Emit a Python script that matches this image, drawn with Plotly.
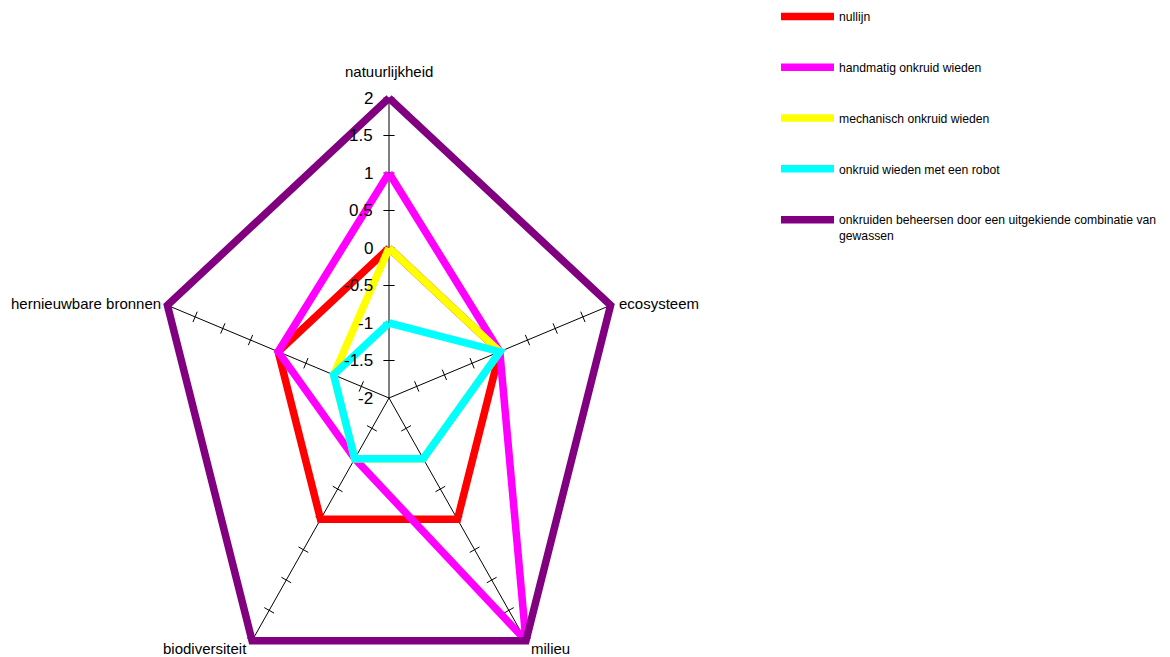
import numpy as np
import plotly.graph_objects as go

# ---------------- data ----------------
categories = ["natuurlijkheid", "ecosysteem", "milieu", "biodiversiteit", "hernieuwbare bronnen"]

series_names = [
    "nullijn",
    "handmatig onkruid wieden",
    "mechanisch onkruid wieden",
    "onkruid wieden met een robot",
    "onkruiden beheersen door een uitgekiende combinatie van<br>gewassen",
]
nullijn = [0, 0, 0, 0, 0]
handmatig = [1, 0, 2, -1, 0]
mechanisch = [0, 0, -1, -1, -1]
robot = [-1, 0, -1, -1, -1]
combinatie = [2, 2, 2, 2, 2]
series_values = [nullijn, handmatig, mechanisch, robot, combinatie]
series_colors = ["#FF0000", "#FF00FF", "#FFFF00", "#00FFFF", "#800080"]

tick_values = [-2, -1.5, -1, -0.5, 0, 0.5, 1, 1.5, 2]
tick_labels = ["-2", "-1.5", "-1", "-0.5", "0", "0.5", "1", "1.5", "2"]
R_MIN, R_MAX = -2, 2

# ---------------- geometry ----------------
W, H = 1170, 657
CX_PX, CY_PX = 389, 398          # centre of the radar in pixels
PX_X, PX_Y = 58.25, 75.0          # pixels per radial unit, horizontal / vertical

n = len(categories)
theta = np.deg2rad(np.arange(n) * 360.0 / n)


def to_xy(vals):
    r = np.asarray(vals, dtype=float) - R_MIN
    return r * np.sin(theta), r * np.cos(theta)


def closed(a):
    a = list(a)
    return a + a[:1]


fig = go.Figure()

# axis spokes
rmax = R_MAX - R_MIN
for k in range(n):
    fig.add_trace(go.Scatter(
        x=[0, rmax * np.sin(theta[k])], y=[0, rmax * np.cos(theta[k])],
        mode="lines", line=dict(color="black", width=1),
        showlegend=False, hoverinfo="skip"))

# tick marks on spokes
for k in range(n):
    rs = np.array(tick_values[1:], dtype=float) - R_MIN
    dx, dy = np.sin(theta[k]) * PX_X, np.cos(theta[k]) * PX_Y
    phi = np.degrees(np.arctan2(dy, dx))
    ang = -(phi + 90.0)
    fig.add_trace(go.Scatter(
        x=rs * np.sin(theta[k]), y=rs * np.cos(theta[k]),
        mode="markers",
        marker=dict(symbol="line-ew", size=8, angle=ang,
                    line=dict(color="black", width=1)),
        showlegend=False, hoverinfo="skip"))

# data series
for i, (name, vals, col) in enumerate(zip(series_names, series_values, series_colors)):
    x, y = to_xy(vals)
    fig.add_trace(go.Scatter(
        x=closed(x), y=closed(y), mode="lines", name=name,
        legendgroup=f"g{i}",
        line=dict(color=col, width=7.5),
        hoverinfo="skip"))

annotations = []
# radial tick labels along top spoke
for v, lab in zip(tick_values, tick_labels):
    annotations.append(dict(
        x=0, y=v - R_MIN, xref="x", yref="y", text=lab, showarrow=False,
        xanchor="right", yanchor="middle", xshift=-14,
        font=dict(size=17, color="black")))

# category labels
label_style = [
    dict(xanchor="center", yanchor="middle", xshift=0, yshift=27),
    dict(xanchor="left", yanchor="middle", xshift=6, yshift=2),
    dict(xanchor="left", yanchor="middle", xshift=3, yshift=-8),
    dict(xanchor="right", yanchor="middle", xshift=-3, yshift=-8),
    dict(xanchor="right", yanchor="middle", xshift=-4, yshift=2),
]
for k, cat in enumerate(categories):
    annotations.append(dict(
        x=rmax * np.sin(theta[k]), y=rmax * np.cos(theta[k]), xref="x", yref="y",
        text=cat, showarrow=False, font=dict(size=15, color="black"),
        **label_style[k]))

fig.update_layout(
    width=W, height=H, autosize=False,
    margin=dict(l=0, r=0, t=0, b=0, autoexpand=False),
    paper_bgcolor="white", plot_bgcolor="white",
    font=dict(family="Liberation Sans, Arial, sans-serif", color="black"),
    xaxis=dict(range=[-CX_PX / PX_X, (W - CX_PX) / PX_X], visible=False,
               showgrid=False, zeroline=False, fixedrange=True),
    yaxis=dict(range=[-(H - CY_PX) / PX_Y, CY_PX / PX_Y], visible=False,
               showgrid=False, zeroline=False, fixedrange=True),
    showlegend=True,
    legend=dict(x=776 / W, y=1.0 - 2 / H, xanchor="left", yanchor="top",
                font=dict(size=12.2, color="black"),
                itemwidth=53, tracegroupgap=31.8, valign="top",
                bgcolor="rgba(0,0,0,0)", borderwidth=0),
    annotations=annotations,
)

fig.write_html("out.html")
